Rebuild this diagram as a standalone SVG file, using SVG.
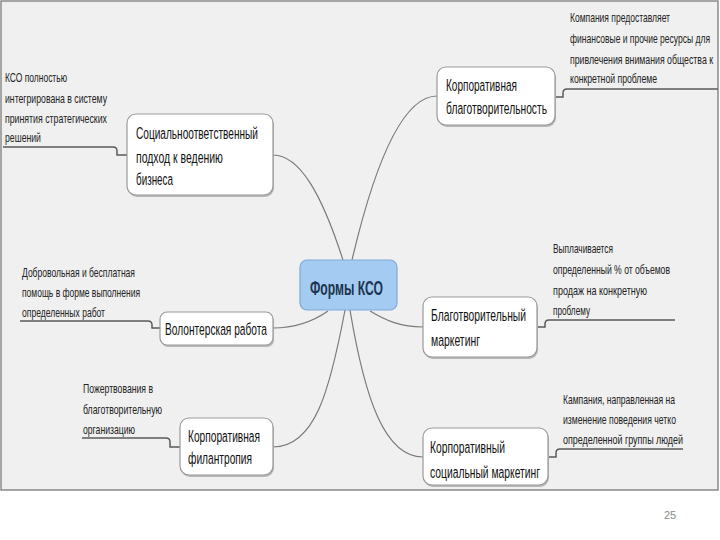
<svg xmlns="http://www.w3.org/2000/svg" width="720" height="540" viewBox="0 0 720 540">
<defs>
<style>
.node{fill:#ffffff;stroke:#9a9a9a;stroke-width:1.2}
.shadow{fill:#b8b8b8}
.nt{font-family:"Liberation Sans",Arial,sans-serif;font-size:17px;fill:#111}
.at{font-family:"Liberation Sans",Arial,sans-serif;font-size:12.5px;fill:#222}
.ct{font-family:"Liberation Sans",Arial,sans-serif;font-size:20px;font-weight:bold;fill:#1d3550}
.curve{fill:none;stroke:#7a7a7a;stroke-width:1.2}
.ul{fill:none;stroke:#5a5a5a;stroke-width:1.5}
</style>
</defs>
<rect x="0" y="0" width="720" height="540" fill="#ffffff"/>
<rect x="1" y="1" width="717" height="489" fill="#f0f0f0" stroke="#8a8a8a" stroke-width="1.5"/>

<g id="connectors">
<path class="curve" d="M273,155 C300,155 322,195 343,260"/>
<path class="curve" d="M437,96 C400,96 372,175 352,260"/>
<path class="curve" d="M273,328 C300,328 318,318 328,311"/>
<path class="curve" d="M370,311 C385,320 400,327 423,327"/>
<path class="curve" d="M273,447 C315,447 330,390 345,310"/>
<path class="curve" d="M350,310 C365,400 385,457 423,457"/>
<path class="ul" d="M3,147 L113,147 Q117,147 117,151 L117,155 L127,155"/>
<path class="ul" d="M718,89 L567,89 Q563,89 563,93 L563,97 L555,97"/>
<path class="ul" d="M20,321 L148,321 Q152,321 152,325 L152,328 L160,328"/>
<path class="ul" d="M675,320 L549,320 Q545,320 545,324 L545,327 L537,327"/>
<path class="ul" d="M82,438 L166,438 Q170,438 170,442 L170,447 L180,447"/>
<path class="ul" d="M683,449 L560,449 Q556,449 556,453 L556,457 L548,457"/>
</g>

<g id="center">
<rect x="300" y="260" width="97" height="50" rx="7" fill="#a4cbf2" stroke="#7fa9d6" stroke-width="1.2"/>
<text class="ct" transform="translate(310,295) scale(0.75,1)" textLength="97.3" lengthAdjust="spacingAndGlyphs">Формы КСО</text>
</g>

<g id="node-social">
<rect class="shadow" x="128" y="116" width="146" height="81" rx="9"/>
<rect class="node" x="127" y="114" width="146" height="81" rx="9"/>
<text class="nt" transform="translate(136,139) scale(0.65,1)" textLength="187.7" lengthAdjust="spacingAndGlyphs">Социальноответственный</text>
<text class="nt" transform="translate(136,163) scale(0.65,1)" textLength="133.8" lengthAdjust="spacingAndGlyphs">подход к ведению</text>
<text class="nt" transform="translate(136,185) scale(0.65,1)" textLength="56.9" lengthAdjust="spacingAndGlyphs">бизнеса</text>
</g>

<g id="node-charity">
<rect class="shadow" x="438" y="69" width="118" height="58" rx="9"/>
<rect class="node" x="437" y="67" width="118" height="58" rx="9"/>
<text class="nt" transform="translate(446,91) scale(0.65,1)" textLength="109.2" lengthAdjust="spacingAndGlyphs">Корпоративная</text>
<text class="nt" transform="translate(446,114) scale(0.65,1)" textLength="155.4" lengthAdjust="spacingAndGlyphs">благотворительность</text>
</g>

<g id="node-volunteer">
<rect class="shadow" x="161" y="314" width="113" height="33" rx="7"/>
<rect class="node" x="160" y="312" width="113" height="33" rx="7"/>
<text class="nt" transform="translate(165,335) scale(0.65,1)" textLength="156.9" lengthAdjust="spacingAndGlyphs">Волонтерская работа</text>
</g>

<g id="node-marketing">
<rect class="shadow" x="424" y="299" width="114" height="60" rx="9"/>
<rect class="node" x="423" y="297" width="114" height="60" rx="9"/>
<text class="nt" transform="translate(431,321) scale(0.65,1)" textLength="146.2" lengthAdjust="spacingAndGlyphs">Благотворительный</text>
<text class="nt" transform="translate(431,346) scale(0.65,1)" textLength="75.4" lengthAdjust="spacingAndGlyphs">маркетинг</text>
</g>

<g id="node-philanthropy">
<rect class="shadow" x="181" y="420" width="93" height="57" rx="9"/>
<rect class="node" x="180" y="418" width="93" height="57" rx="9"/>
<text class="nt" transform="translate(188,442) scale(0.65,1)" textLength="110.8" lengthAdjust="spacingAndGlyphs">Корпоративная</text>
<text class="nt" transform="translate(188,464) scale(0.65,1)" textLength="98.5" lengthAdjust="spacingAndGlyphs">филантропия</text>
</g>

<g id="node-social-marketing">
<rect class="shadow" x="424" y="430" width="125" height="57" rx="9"/>
<rect class="node" x="423" y="428" width="125" height="57" rx="9"/>
<text class="nt" transform="translate(430,453) scale(0.65,1)" textLength="115.4" lengthAdjust="spacingAndGlyphs">Корпоративный</text>
<text class="nt" transform="translate(430,478) scale(0.65,1)" textLength="169.2" lengthAdjust="spacingAndGlyphs">социальный маркетинг</text>
</g>

<g id="note-social">
<text class="at" transform="translate(5,82) scale(0.7,1)" textLength="88.6" lengthAdjust="spacingAndGlyphs">КСО полностью</text>
<text class="at" transform="translate(5,103) scale(0.7,1)" textLength="145.7" lengthAdjust="spacingAndGlyphs">интегрирована в систему</text>
<text class="at" transform="translate(5,123) scale(0.7,1)" textLength="145.7" lengthAdjust="spacingAndGlyphs">принятия стратегических</text>
<text class="at" transform="translate(5,142) scale(0.7,1)" textLength="51.4" lengthAdjust="spacingAndGlyphs">решений</text>
</g>

<g id="note-charity">
<text class="at" transform="translate(570,22) scale(0.7,1)" textLength="142.9" lengthAdjust="spacingAndGlyphs">Компания предоставляет</text>
<text class="at" transform="translate(570,43) scale(0.7,1)" textLength="200" lengthAdjust="spacingAndGlyphs">финансовые и прочие ресурсы для</text>
<text class="at" transform="translate(570,64) scale(0.7,1)" textLength="204.3" lengthAdjust="spacingAndGlyphs">привлечения внимания общества к</text>
<text class="at" transform="translate(570,83) scale(0.7,1)" textLength="124.3" lengthAdjust="spacingAndGlyphs">конкретной проблеме</text>
</g>

<g id="note-volunteer">
<text class="at" transform="translate(22,277) scale(0.7,1)" textLength="161.4" lengthAdjust="spacingAndGlyphs">Добровольная и бесплатная</text>
<text class="at" transform="translate(22,297) scale(0.7,1)" textLength="168.6" lengthAdjust="spacingAndGlyphs">помощь в форме выполнения</text>
<text class="at" transform="translate(22,317) scale(0.7,1)" textLength="118.6" lengthAdjust="spacingAndGlyphs">определенных работ</text>
</g>

<g id="note-marketing">
<text class="at" transform="translate(553,253) scale(0.7,1)" textLength="85.7" lengthAdjust="spacingAndGlyphs">Выплачивается</text>
<text class="at" transform="translate(553,274) scale(0.7,1)" textLength="167.1" lengthAdjust="spacingAndGlyphs">определенный % от объемов</text>
<text class="at" transform="translate(553,295) scale(0.7,1)" textLength="134.3" lengthAdjust="spacingAndGlyphs">продаж на конкретную</text>
<text class="at" transform="translate(553,315) scale(0.7,1)" textLength="52.9" lengthAdjust="spacingAndGlyphs">проблему</text>
</g>

<g id="note-philanthropy">
<text class="at" transform="translate(83,393) scale(0.7,1)" textLength="100" lengthAdjust="spacingAndGlyphs">Пожертвования в</text>
<text class="at" transform="translate(83,414) scale(0.7,1)" textLength="112.9" lengthAdjust="spacingAndGlyphs">благотворительную</text>
<text class="at" transform="translate(83,434) scale(0.7,1)" textLength="74.3" lengthAdjust="spacingAndGlyphs">организацию</text>
</g>

<g id="note-social-marketing">
<text class="at" transform="translate(563,404) scale(0.7,1)" textLength="160" lengthAdjust="spacingAndGlyphs">Кампания, направленная на</text>
<text class="at" transform="translate(563,424) scale(0.7,1)" textLength="161.4" lengthAdjust="spacingAndGlyphs">изменение поведения четко</text>
<text class="at" transform="translate(563,444) scale(0.7,1)" textLength="171.4" lengthAdjust="spacingAndGlyphs">определенной группы людей</text>
</g>

<text x="670" y="519" text-anchor="middle" font-family="Liberation Sans, Arial, sans-serif" font-size="11" fill="#8a8a8a">25</text>
</svg>
